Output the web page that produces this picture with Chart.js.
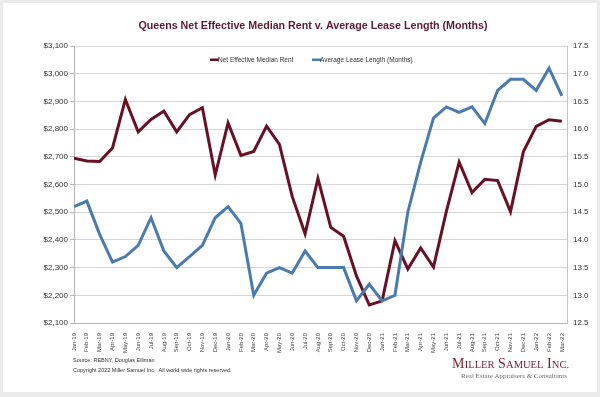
<!DOCTYPE html>
<html>
<head>
<meta charset="utf-8">
<script src="https://cdn.jsdelivr.net/npm/chart.js@4.4.1/dist/chart.umd.min.js"></script>
<style>
  html, body { margin: 0; padding: 0; background: #ebebeb; }
  #wrap { width: 600px; height: 397px; }
</style>
</head>
<body>
<div id="wrap"><canvas id="myChart" width="600" height="397"></canvas></div>
<script>
// months Jan-19 .. Mar-22
var months = ['Jan-19','Feb-19','Mar-19','Apr-19','May-19','Jun-19','Jul-19','Aug-19','Sep-19','Oct-19','Nov-19','Dec-19',
  'Jan-20','Feb-20','Mar-20','Apr-20','May-20','Jun-20','Jul-20','Aug-20','Sep-20','Oct-20','Nov-20','Dec-20',
  'Jan-21','Feb-21','Mar-21','Apr-21','May-21','Jun-21','Jul-21','Aug-21','Sep-21','Oct-21','Nov-21','Dec-21',
  'Jan-22','Feb-22','Mar-22'];

var medianRent = [2695, 2685, 2683, 2732, 2907, 2790, 2835, 2865, 2790, 2852, 2877, 2634,
  2822, 2705, 2719, 2811, 2745, 2556, 2422, 2622, 2445, 2413, 2270, 2165,
  2180, 2397, 2295, 2371, 2302, 2502, 2681, 2571, 2619, 2614, 2502, 2718,
  2810, 2834, 2828];

var leaseLength = [14.6, 14.7, 14.1, 13.6, 13.7, 13.9, 14.4, 13.8, 13.5, 13.7, 13.9, 14.4,
  14.6, 14.3, 13.0, 13.4, 13.5, 13.4, 13.8, 13.5, 13.5, 13.5, 12.9, 13.2,
  12.9, 13.0, 14.5, 15.4, 16.2, 16.4, 16.3, 16.4, 16.1, 16.7, 16.9, 16.9,
  16.7, 17.1, 16.6];

var rentTicks = [2100, 3100, 100];     // min, max, step
var leaseTicks = [12.5, 17.5, 0.5];

var maroon = '#6a1024';
var blue = '#4a7bb0';
var sans = '"Liberation Sans", Arial, sans-serif';
var serif = '"Liberation Serif", "Times New Roman", serif';

function pts(arr) {
  return arr.map(function (v, i) { return { x: i, y: v }; });
}

// card background, title, legend and footer
var decor = {
  id: 'decor',
  beforeDraw: function (chart) {
    var c = chart.ctx;
    c.save();
    c.fillStyle = '#ebebeb';
    c.fillRect(0, 0, 600, 397);
    c.fillStyle = '#ffffff';
    c.fillRect(3, 3, 594, 389);
    c.restore();
  },
  afterDraw: function (chart) {
    var c = chart.ctx;
    c.save();
    c.textBaseline = 'middle';

    c.fillStyle = '#5e1a2e';
    c.font = 'bold 10.7px ' + sans;
    c.textAlign = 'center';
    c.fillText('Queens Net Effective Median Rent v. Average Lease Length (Months)', 313, 26);

    // legend
    c.textAlign = 'left';
    c.font = '6.5px ' + sans;
    var lx = [210, 312];
    chart.data.datasets.forEach(function (ds, i) {
      c.fillStyle = ds.borderColor;
      c.fillRect(lx[i], 58.5, 9, 2.5);
      c.fillStyle = '#333';
      c.fillText(ds.label, lx[i] + 8, 60);
    });

    // source
    c.fillStyle = '#333';
    c.font = '5.5px ' + sans;
    c.fillText('Source: REBNY, Douglas Elliman', 73, 360);
    c.fillText('Copyright 2022 Miller Samuel Inc.  All world wide rights reserved.', 73, 370);

    // logo
    c.textBaseline = 'alphabetic';
    c.fillStyle = '#7a1e30';
    var words = ['MILLER', 'SAMUEL', 'INC.'];
    var x = 452;
    words.forEach(function (w) {
      c.font = '14px ' + serif;
      c.fillText(w[0], x, 368);
      x += c.measureText(w[0]).width + 0.3;
      c.font = '10.5px ' + serif;
      c.fillText(w.slice(1), x, 368);
      x += c.measureText(w.slice(1)).width + 3.5;
    });
    c.fillStyle = '#6e6e6e';
    var sub = 'Real Estate Appraisers & Consultants';
    c.font = '10px ' + serif;
    var fs = 10 * 106 / c.measureText(sub).width;
    c.font = fs.toFixed(2) + 'px ' + serif;
    c.textAlign = 'right';
    c.fillText(sub, 567, 378);
    c.restore();
  }
};

var ctx = document.getElementById('myChart');
var chart = new Chart(ctx, {
  type: 'line',
  data: {
    datasets: [{
      label: 'Net Effective Median Rent',
      data: pts(medianRent),
      borderColor: maroon,
      backgroundColor: maroon,
      borderWidth: 3,
      pointRadius: 0,
      yAxisID: 'y',
      order: 1
    }, {
      label: 'Average Lease Length (Months)',
      data: pts(leaseLength),
      borderColor: blue,
      backgroundColor: blue,
      borderWidth: 3,
      pointRadius: 0,
      yAxisID: 'y1',
      order: 0
    }]
  },
  options: {
    responsive: false,
    animation: false,
    devicePixelRatio: 1,
    layout: { padding: { top: 46, left: 0, right: 0, bottom: 0 } },
    plugins: {
      legend: { display: false },
      title: { display: false },
      tooltip: { enabled: false }
    },
    scales: {
      x: {
        type: 'linear',
        min: 0,
        max: 38.4,
        grid: { display: false },
        border: { display: true, color: '#b5b5b5' },
        afterFit: function (s) { s.height = 74; },
        ticks: {
          stepSize: 1,
          includeBounds: false,
          autoSkip: false,
          minRotation: 90,
          maxRotation: 90,
          padding: 2,
          color: '#444',
          font: { family: sans, size: 6 },
          callback: function (v) { return months[Math.round(v)]; }
        }
      },
      y: {
        position: 'left',
        min: rentTicks[0],
        max: rentTicks[1],
        afterFit: function (s) { s.width = 74; },
        grid: { color: '#d6d6d6', tickLength: 4, tickColor: '#b5b5b5' },
        border: { display: true, color: '#b5b5b5' },
        ticks: {
          stepSize: rentTicks[2],
          padding: 2,
          color: '#333',
          font: { family: sans, size: 8 },
          callback: function (v) { return '$' + v.toLocaleString('en-US'); }
        }
      },
      y1: {
        position: 'right',
        min: leaseTicks[0],
        max: leaseTicks[1],
        afterFit: function (s) { s.width = 33; },
        grid: { drawOnChartArea: false, tickLength: 0 },
        border: { display: true, color: '#c5c5c5' },
        ticks: {
          stepSize: leaseTicks[2],
          padding: 6,
          color: '#333',
          font: { family: sans, size: 8 },
          callback: function (v) { return v.toFixed(1); }
        }
      }
    }
  },
  plugins: [decor]
});
</script>
</body>
</html>
